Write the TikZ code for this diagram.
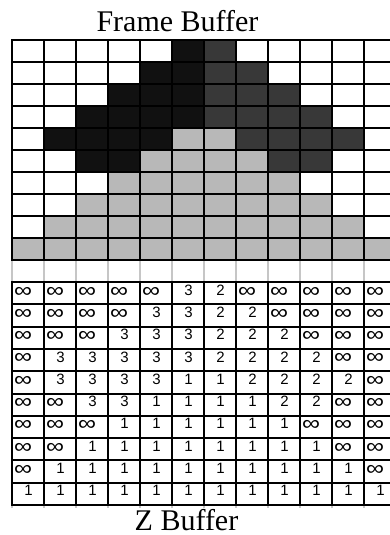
\documentclass[tikz,border=0pt]{standalone}
\usepackage{fontspec}
\usepackage{graphicx}
\setmainfont{Liberation Serif}
\newfontfamily\zfont{Liberation Sans}

\definecolor{shade0}{HTML}{FFFFFF}
\definecolor{shade1}{HTML}{B8B8B8}
\definecolor{shade2}{HTML}{383838}
\definecolor{shade3}{HTML}{111111}
\definecolor{faint}{HTML}{C6C6C6}

\tikzset{
  gridline/.style={line width=2pt, line cap=rect},
  fadeline/.style={line width=2pt, color=faint},
  title/.style={font=\fontsize{30}{30}\selectfont, inner sep=0pt, anchor=base},
  depth/.style={font=\zfont\fontsize{15}{15}\selectfont, inner sep=0pt},
  infty/.style={font=\zfont\fontsize{21}{21}\selectfont, inner sep=0pt}
}

\begin{document}
\begin{tikzpicture}[x=1pt, y=-1pt]
    \useasboundingbox (0,0) rectangle (390,535);

    % Titles
    \node[title] (fbtitle) at (177.5,32) {Frame Buffer};
    \node[title] (zbtitle) at (186.5,530) {Z Buffer};

    % Frame buffer cells
    \foreach \row [count=\r] in {
        {0,0,0,0,0,3,2,0,0,0,0,0},
        {0,0,0,0,3,3,2,2,0,0,0,0},
        {0,0,0,3,3,3,2,2,2,0,0,0},
        {0,0,3,3,3,3,2,2,2,2,0,0},
        {0,3,3,3,3,1,1,2,2,2,2,0},
        {0,0,3,3,1,1,1,1,2,2,0,0},
        {0,0,0,1,1,1,1,1,1,0,0,0},
        {0,0,1,1,1,1,1,1,1,1,0,0},
        {0,1,1,1,1,1,1,1,1,1,1,0},
        {1,1,1,1,1,1,1,1,1,1,1,1}} {
        \foreach \v [count=\c] in \row {
            \fill[shade\v] ({12+32*(\c-1)},{40+22*(\r-1)}) rectangle +(32,22);
        }
    }

    % Frame buffer grid
    \foreach \c in {0,...,12}
        \draw[gridline] ({12+32*\c},40) -- ({12+32*\c},260);
    \foreach \r in {0,...,10}
        \draw[gridline] (12,{40+22*\r}) -- (396,{40+22*\r});

    % Faded row between the buffers
    \foreach \c in {0,...,12} {
        \draw[fadeline] ({12+32*\c},261) -- ({12+32*\c},281);
        \draw[fadeline] ({12+32*\c},506) -- ({12+32*\c},508);
    }

    % Z buffer values (0 = infinity)
    \foreach \row [count=\r] in {
        {0,0,0,0,0,3,2,0,0,0,0,0},
        {0,0,0,0,3,3,2,2,0,0,0,0},
        {0,0,0,3,3,3,2,2,2,0,0,0},
        {0,3,3,3,3,3,2,2,2,2,0,0},
        {0,3,3,3,3,1,1,2,2,2,2,0},
        {0,0,3,3,1,1,1,1,2,2,0,0},
        {0,0,0,1,1,1,1,1,1,0,0,0},
        {0,0,1,1,1,1,1,1,1,1,0,0},
        {0,1,1,1,1,1,1,1,1,1,1,0},
        {1,1,1,1,1,1,1,1,1,1,1,1}} {
        \foreach \v [count=\c] in \row {
            \ifnum\v=0
                \node[infty] (z\r-\c) at ({12+32*(\c-1)+11},{282+22.3*(\r-1)+10}) {\scalebox{1.2}[1]{∞}};
            \else
                \node[depth] (z\r-\c) at ({12+32*(\c-1)+16.5},{282+22.3*(\r-1)+8}) {\v};
            \fi
        }
    }

    % Z buffer grid
    \foreach \c in {0,...,12}
        \draw[gridline] ({12+32*\c},282) -- ({12+32*\c},505);
    \foreach \r in {0,...,10}
        \draw[gridline] (12,{282+22.3*\r}) -- (396,{282+22.3*\r});
\end{tikzpicture}
\end{document}
